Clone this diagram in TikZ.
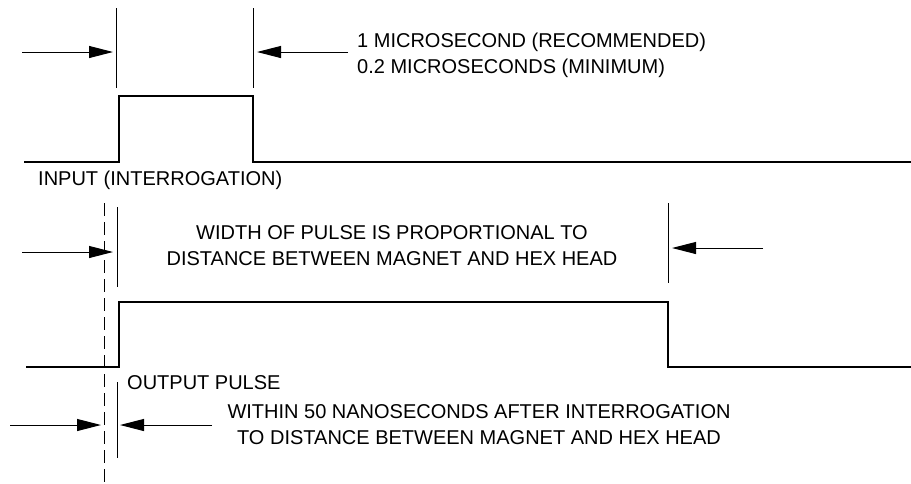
\documentclass[tikz,border=0pt]{standalone}
\usepackage{fontspec}
\setmainfont{Liberation Sans}
\usetikzlibrary{arrows.meta}
\begin{document}
\begin{tikzpicture}[x=1pt,y=-1pt,
  sig/.style={line width=1.8pt},
  ext/.style={line width=1pt},
  dashln/.style={line width=1pt,dash pattern=on 13pt off 6pt},
  dim/.style={line width=1pt,-{Triangle[length=24pt,width=12pt]}},
  lbl/.style={font=\fontsize{20}{26}\selectfont, inner sep=0pt},
]
\useasboundingbox (0,0) rectangle (911,483);
% ---- top: input pulse ----
\coordinate (e1t) at (116,8);  \coordinate (e1b) at (116,88);
\coordinate (e2t) at (253,8);  \coordinate (e2b) at (253,88);
\draw[ext] (e1t) -- (e1b);
\draw[ext] (e2t) -- (e2b);
\coordinate (a1s) at (22,52);  \coordinate (a1e) at (113,52);
\coordinate (a2s) at (348,52); \coordinate (a2e) at (257,52);
\draw[dim] (a1s) -- (a1e);
\draw[dim] (a2s) -- (a2e);
\node[lbl,anchor=west,align=left] (tinput) at (357,55)
  {1 MICROSECOND (RECOMMENDED)\\0.2 MICROSECONDS (MINIMUM)};
\draw[sig] (24,162) -- (119,162) -- (119,96) -- (253,96) -- (253,162) -- (911,162);
\node[lbl,anchor=west] (linput) at (38,180) {INPUT (INTERROGATION)};
% ---- middle: output pulse ----
\coordinate (dt) at (104,203); \coordinate (db) at (104,483);
\draw[dashln] (dt) -- (db);
\coordinate (e3t) at (117,207); \coordinate (e3b) at (117,287);
\draw[ext] (e3t) -- (e3b);
\coordinate (e4t) at (668,203); \coordinate (e4b) at (668,283);
\draw[ext] (e4t) -- (e4b);
\coordinate (a3s) at (22,252);  \coordinate (a3e) at (113,252);
\coordinate (a4s) at (763,248); \coordinate (a4e) at (672,248);
\draw[dim] (a3s) -- (a3e);
\draw[dim] (a4s) -- (a4e);
\node[lbl,align=center] (twidth) at (392,246)
  {WIDTH OF PULSE IS PROPORTIONAL TO\\DISTANCE BETWEEN MAGNET AND HEX HEAD};
\draw[sig] (26,367) -- (119,367) -- (119,302) -- (668,302) -- (668,367) -- (911,367);
\node[lbl,anchor=west] (loutput) at (127,383) {OUTPUT PULSE};
% ---- bottom: delay ----
\coordinate (e5t) at (117,382); \coordinate (e5b) at (117,458);
\draw[ext] (e5t) -- (e5b);
\coordinate (a5s) at (10,425);  \coordinate (a5e) at (101,425);
\coordinate (a6s) at (212,425); \coordinate (a6e) at (120,425);
\draw[dim] (a5s) -- (a5e);
\draw[dim] (a6s) -- (a6e);
\node[lbl,align=center] (tdelay) at (479,425)
  {WITHIN 50 NANOSECONDS AFTER INTERROGATION\\TO DISTANCE BETWEEN MAGNET AND HEX HEAD};
\end{tikzpicture}
\end{document}
